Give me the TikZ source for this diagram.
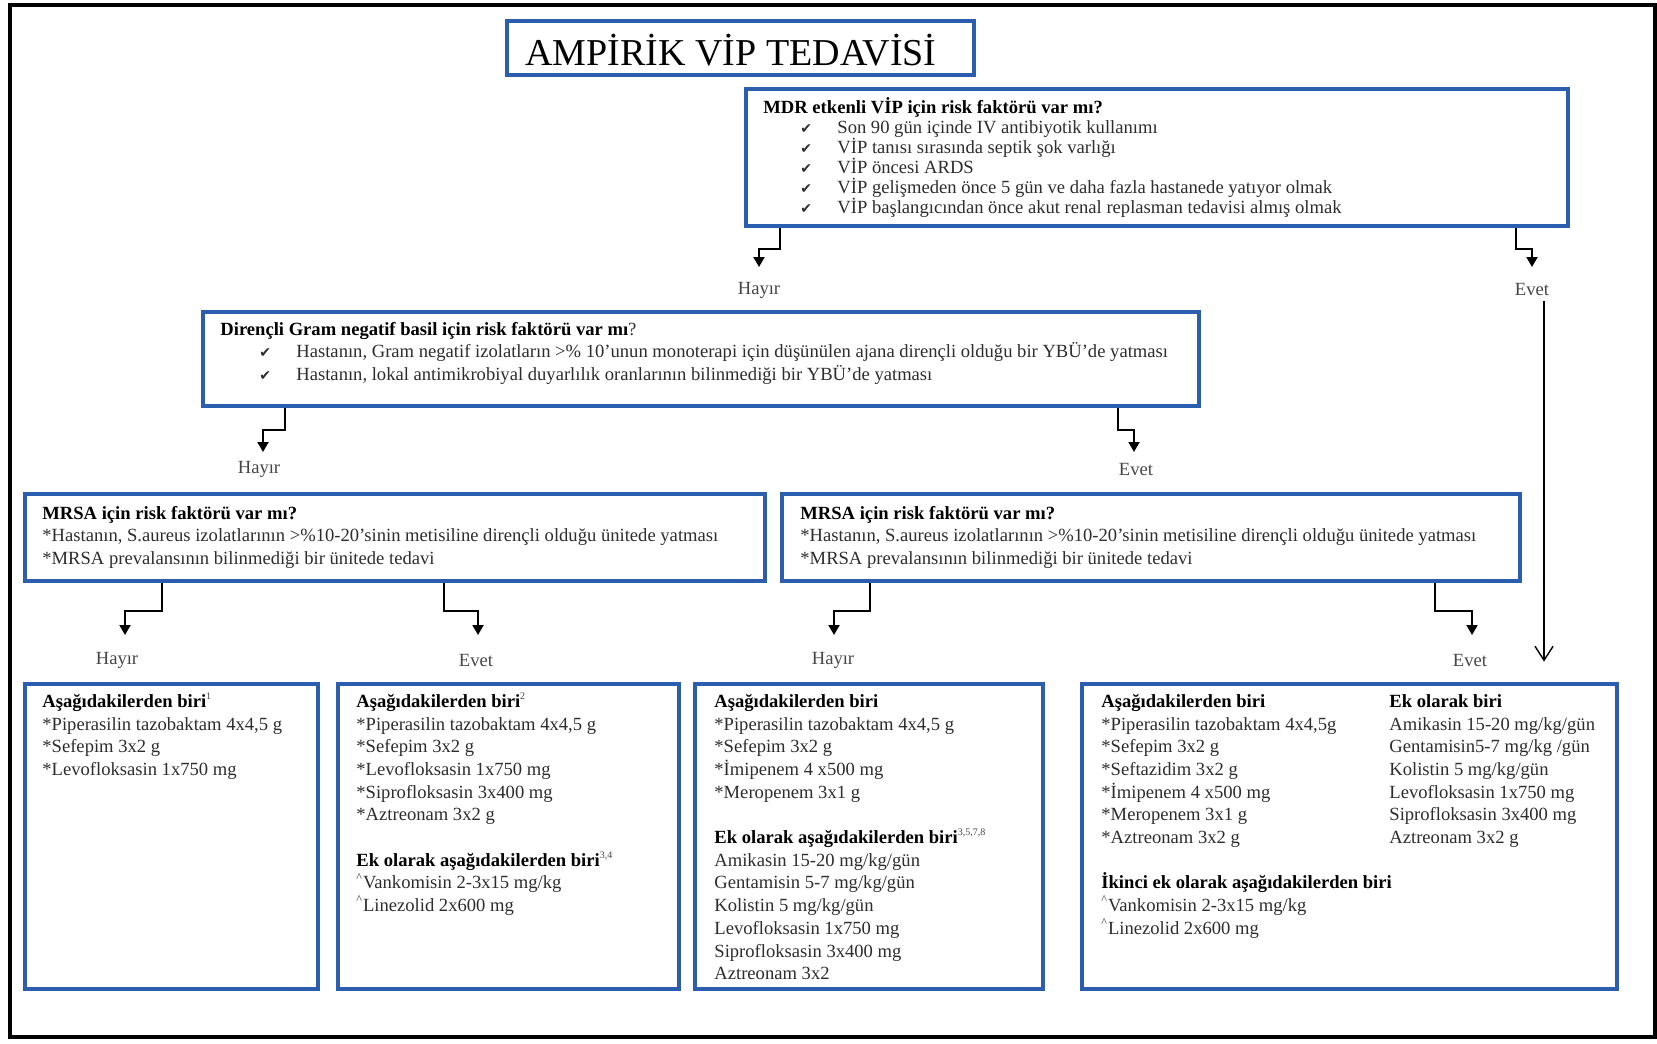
\documentclass[tikz,border=0pt]{standalone}
\usepackage{fontspec}
\setmainfont{Liberation Serif}
\newfontfamily\djv{DejaVu Sans}
\usetikzlibrary{arrows.meta,fit}
\definecolor{boxblue}{RGB}{44,94,176}
\definecolor{txtc}{RGB}{45,45,45}
\definecolor{lblc}{RGB}{70,70,70}
\newcommand{\ckm}{{\djv\fontsize{7}{7}\selectfont ✔}}
\newcommand{\ckline}[2]{\hspace*{#1}\makebox[18.5pt][l]{\ckm}#2}
\newcommand{\sfn}[1]{\textsuperscript{\color{lblc}\fontsize{5}{5}\selectfont #1}}
\newcommand{\crt}{\textsuperscript{\fontsize{6}{6}\selectfont\textasciicircum}}
\begin{document}
\begin{tikzpicture}[x=0.5pt,y=-0.5pt,
  box/.style={draw=boxblue, line width=2.4pt, inner sep=0pt},
  txt/.style={anchor=north west, inner sep=0pt, align=left, text=txtc, font=\fontsize{9.3}{11.35}\selectfont},
  lbl/.style={inner sep=0pt, text=lblc, font=\fontsize{9.3}{11}\selectfont},
  conn/.style={line width=1pt, -{Triangle[length=5pt,width=5.5pt]}},
  longarr/.style={line width=0.7pt, -{Straight Barb[length=7pt,width=9pt]}}]
\useasboundingbox (0,0) rectangle (1657,1043);
\fill[white] (0,0) rectangle (1657,1043);
\draw[line width=2pt] (10,5) rectangle (1655,1037);

% boxes
\node[box, fit={(507,21) (974,75)}] (title) {};
\node[box, fit={(746,89) (1568,226)}] (mdr) {};
\node[box, fit={(203,312) (1199,406)}] (gram) {};
\node[box, fit={(25,494) (765,581)}] (mrsaL) {};
\node[box, fit={(782,494) (1520,581)}] (mrsaR) {};
\node[box, fit={(25,684) (318,989)}] (b1) {};
\node[box, fit={(338,684) (679,989)}] (b2) {};
\node[box, fit={(695,684) (1043,989)}] (b3) {};
\node[box, fit={(1082,684) (1617,989)}] (b4) {};

% title
\node[inner sep=0pt, font=\fontsize{19}{21}\selectfont] (tt) at (731,50) {AMPİRİK VİP TEDAVİSİ};

% MDR text
\node[txt, font=\fontsize{9.3}{10}\selectfont] (mdrt) at (763,97) {\strut\textcolor{black}{\textbf{MDR etkenli VİP için risk faktörü var mı?}}\\
\ckline{18.5pt}{Son 90 gün içinde IV antibiyotik kullanımı}\\
\ckline{18.5pt}{VİP tanısı sırasında septik şok varlığı}\\
\ckline{18.5pt}{VİP öncesi ARDS}\\
\ckline{18.5pt}{VİP gelişmeden önce 5 gün ve daha fazla hastanede yatıyor olmak}\\
\ckline{18.5pt}{VİP başlangıcından önce akut renal replasman tedavisi almış olmak}};

% Gram text
\node[txt] (gramt) at (220,319) {\strut\textcolor{black}{\textbf{Dirençli Gram negatif basil için risk faktörü var mı}}?\\
\ckline{19.5pt}{Hastanın, Gram negatif izolatların >\% 10’unun monoterapi için düşünülen ajana dirençli olduğu bir YBÜ’de yatması}\\
\ckline{19.5pt}{Hastanın, lokal antimikrobiyal duyarlılık oranlarının bilinmediği bir YBÜ’de yatması}};

% MRSA texts
\node[txt] (mrsaLt) at (42,503) {\strut\textcolor{black}{\textbf{MRSA için risk faktörü var mı?}}\\
{*}Hastanın, S.aureus izolatlarının >\%10-20’sinin metisiline dirençli olduğu ünitede yatması\\
{*}MRSA prevalansının bilinmediği bir ünitede tedavi};
\node[txt] (mrsaRt) at (800,503) {\strut\textcolor{black}{\textbf{MRSA için risk faktörü var mı?}}\\
{*}Hastanın, S.aureus izolatlarının >\%10-20’sinin metisiline dirençli olduğu ünitede yatması\\
{*}MRSA prevalansının bilinmediği bir ünitede tedavi};

% bottom box texts
\node[txt] (b1t) at (42,691) {\strut\textcolor{black}{\textbf{Aşağıdakilerden biri}}\sfn{1}\\
{*}Piperasilin tazobaktam 4x4,5 g\\
{*}Sefepim 3x2 g\\
{*}Levofloksasin 1x750 mg};

\node[txt] (b2t) at (356,691) {\strut\textcolor{black}{\textbf{Aşağıdakilerden biri}}\sfn{2}\\
{*}Piperasilin tazobaktam 4x4,5 g\\
{*}Sefepim 3x2 g\\
{*}Levofloksasin 1x750 mg\\
{*}Siprofloksasin 3x400 mg\\
{*}Aztreonam 3x2 g\\
\mbox{}\\
\textcolor{black}{\textbf{Ek olarak aşağıdakilerden biri}}\sfn{3,4}\\
\crt Vankomisin 2-3x15 mg/kg\\
\crt Linezolid 2x600 mg};

\node[txt] (b3t) at (714,691) {\strut\textcolor{black}{\textbf{Aşağıdakilerden biri}}\\
{*}Piperasilin tazobaktam 4x4,5 g\\
{*}Sefepim 3x2 g\\
{*}İmipenem 4 x500 mg\\
{*}Meropenem 3x1 g\\
\mbox{}\\
\textcolor{black}{\textbf{Ek olarak aşağıdakilerden biri}}\sfn{3,5,7,8}\\
Amikasin 15-20 mg/kg/gün\\
Gentamisin 5-7 mg/kg/gün\\
Kolistin 5 mg/kg/gün\\
Levofloksasin 1x750 mg\\
Siprofloksasin 3x400 mg\\
Aztreonam 3x2};

\node[txt] (b4t) at (1101,691) {\strut\textcolor{black}{\textbf{Aşağıdakilerden biri}}\\
{*}Piperasilin tazobaktam 4x4,5g\\
{*}Sefepim 3x2 g\\
{*}Seftazidim 3x2 g\\
{*}İmipenem 4 x500 mg\\
{*}Meropenem 3x1 g\\
{*}Aztreonam 3x2 g\\
\mbox{}\\
\textcolor{black}{\textbf{İkinci ek olarak aşağıdakilerden biri}}\\
\crt Vankomisin 2-3x15 mg/kg\\
\crt Linezolid 2x600 mg};

\node[txt] (b4r) at (1389,691) {\strut\textcolor{black}{\textbf{Ek olarak biri}}\\
Amikasin 15-20 mg/kg/gün\\
Gentamisin5-7 mg/kg /gün\\
Kolistin 5 mg/kg/gün\\
Levofloksasin 1x750 mg\\
Siprofloksasin 3x400 mg\\
Aztreonam 3x2 g};

% labels
\node[lbl] (h1) at (759,290) {Hayır};
\node[lbl] (e1) at (1532,290) {Evet};
\node[lbl] (h2) at (259,469) {Hayır};
\node[lbl] (e2) at (1136,469) {Evet};
\node[lbl] (h3) at (117,660) {Hayır};
\node[lbl] (e3) at (476,660) {Evet};
\node[lbl] (h4) at (833,660) {Hayır};
\node[lbl] (e4) at (1470,660) {Evet};

% connector start x and tips
\coordinate (s1) at (780,0);   \coordinate (t1) at (759,267);
\coordinate (s2) at (1516,0);  \coordinate (t2) at (1532,267);
\coordinate (s3) at (285,0);   \coordinate (t3) at (263,452);
\coordinate (s4) at (1118,0);  \coordinate (t4) at (1134,452);
\coordinate (s5) at (162,0);   \coordinate (t5) at (125,635);
\coordinate (s6) at (444,0);   \coordinate (t6) at (478,635);
\coordinate (s7) at (870,0);   \coordinate (t7) at (834,635);
\coordinate (s8) at (1435,0);  \coordinate (t8) at (1472,635);
\coordinate (s9) at (1544,0);

\draw[conn] (mdr.south -| s1) -- ++(0,21) -| (t1);
\draw[conn] (mdr.south -| s2) -- ++(0,21) -| (t2);
\draw[conn] (gram.south -| s3) -- ++(0,22) -| (t3);
\draw[conn] (gram.south -| s4) -- ++(0,22) -| (t4);
\draw[conn] (mrsaL.south -| s5) -- ++(0,28) -| (t5);
\draw[conn] (mrsaL.south -| s6) -- ++(0,28) -| (t6);
\draw[conn] (mrsaR.south -| s7) -- ++(0,28) -| (t7);
\draw[conn] (mrsaR.south -| s8) -- ++(0,28) -| (t8);
\draw[longarr, shorten <=2pt, shorten >=10pt] (e1.south -| s9) -- (b4.north -| s9);
\end{tikzpicture}
\end{document}
